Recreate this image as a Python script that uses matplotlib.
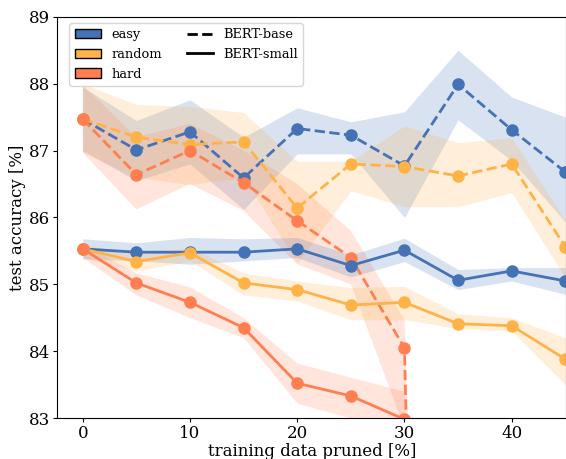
import numpy as np
import matplotlib.pyplot as plt
from matplotlib.patches import Patch
from matplotlib.lines import Line2D

plt.rcParams['font.family'] = 'DejaVu Serif'

pruned = [0, 5, 10, 15, 20, 25, 30, 35, 40, 45]

# BERT-base (dashed)
easy_base = [87.47, 87.01, 87.28, 86.59, 87.33, 87.23, 86.77, 87.99, 87.31, 86.68]
easy_base_hi = [87.95, 87.45, 87.76, 87.20, 87.64, 87.43, 87.58, 88.50, 87.80, 87.50]
easy_base_lo = [87.00, 86.55, 86.80, 86.12, 86.95, 86.95, 86.00, 87.46, 86.85, 85.93]

random_base = [87.47, 87.20, 87.09, 87.13, 86.14, 86.80, 86.76, 86.62, 86.80, 85.56]
random_base_hi = [88.00, 87.69, 87.66, 87.57, 86.84, 86.84, 87.37, 87.12, 87.19, 85.96]
random_base_lo = [86.97, 86.60, 86.49, 86.60, 85.32, 86.40, 86.16, 86.16, 86.37, 85.10]

hard_x = [0, 5, 10, 15, 20, 25, 30, 35]
hard_base = [87.47, 86.64, 87.00, 86.52, 85.95, 85.40, 84.05, 50.0]
hard_base_hi = [87.98, 87.20, 87.40, 87.00, 86.50, 85.80, 84.47, 60.0]
hard_base_lo = [86.97, 86.12, 86.50, 86.10, 85.30, 85.00, 82.85, 40.0]

# BERT-small (solid)
easy_small = [85.53, 85.48, 85.48, 85.48, 85.53, 85.28, 85.51, 85.06, 85.20, 85.05]
easy_small_hi = [85.68, 85.62, 85.70, 85.68, 85.70, 85.44, 85.69, 85.22, 85.25, 85.25]
easy_small_lo = [85.38, 85.35, 85.30, 85.35, 85.40, 85.11, 85.34, 84.92, 85.05, 84.85]

random_small = [85.53, 85.34, 85.47, 85.02, 84.92, 84.69, 84.73, 84.41, 84.38, 83.88]
random_small_hi = [85.60, 85.45, 85.55, 85.17, 85.05, 84.95, 84.97, 84.56, 84.50, 84.20]
random_small_lo = [85.40, 85.20, 85.35, 84.84, 84.75, 84.47, 84.47, 84.34, 84.30, 83.50]

hard_small_x = [0, 5, 10, 15, 20, 25, 30]
hard_small = [85.53, 85.02, 84.73, 84.35, 83.52, 83.33, 82.98]
hard_small_hi = [85.60, 85.17, 84.96, 84.50, 83.82, 83.61, 83.40]
hard_small_lo = [85.40, 84.84, 84.50, 84.20, 83.22, 83.00, 82.50]

c_easy = '#4472B4'
c_random = '#FFB347'
c_hard = '#FF7F50'

fig = plt.figure(figsize=(5.66, 4.59), dpi=100)
ax = fig.add_axes([0.1007, 0.0893, 0.9, 0.874])

series = [
    (pruned, easy_base, easy_base_lo, easy_base_hi, c_easy, '--'),
    (pruned, random_base, random_base_lo, random_base_hi, c_random, '--'),
    (hard_x, hard_base, hard_base_lo, hard_base_hi, c_hard, '--'),
    (pruned, easy_small, easy_small_lo, easy_small_hi, c_easy, '-'),
    (pruned, random_small, random_small_lo, random_small_hi, c_random, '-'),
    (hard_small_x, hard_small, hard_small_lo, hard_small_hi, c_hard, '-'),
]
for x, y, lo, hi, c, ls in series:
    ax.fill_between(x, lo, hi, color=c, alpha=0.2, linewidth=0)
    ax.plot(x, y, ls, color=c, marker='o', markersize=8, linewidth=2)

ax.set_xlim(-2.4, 45.1)
ax.set_ylim(83, 89)
ax.set_xticks([0, 10, 20, 30, 40])
ax.set_yticks([83, 84, 85, 86, 87, 88, 89])
ax.tick_params(labelsize=12, length=3, pad=2)
ax.set_xlabel('training data pruned [%]', fontsize=12, labelpad=1)
ax.set_ylabel('test accuracy [%]', fontsize=12, labelpad=2)

handles = [
    Patch(facecolor=c_easy, edgecolor='black', label='easy'),
    Patch(facecolor=c_random, edgecolor='black', label='random'),
    Patch(facecolor=c_hard, edgecolor='black', label='hard'),
    Line2D([0], [0], color='black', ls='--', lw=2, label='BERT-base'),
    Line2D([0], [0], color='black', ls='-', lw=2, label='BERT-small'),
    Line2D([0], [0], color='none', label=' '),
]
ax.legend(handles=handles, ncol=2, loc='upper left', fontsize=9.4,
          bbox_to_anchor=(0.014, 0.997), borderaxespad=0.4, columnspacing=1.9)

fig.savefig('out.png', dpi=100)
